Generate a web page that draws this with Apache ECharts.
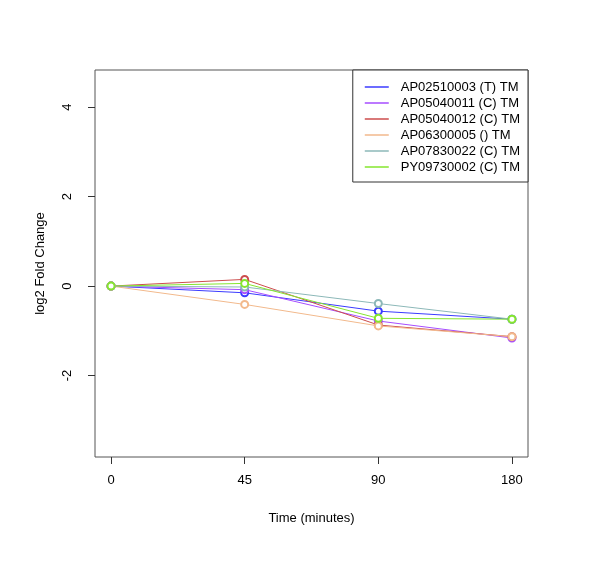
<!DOCTYPE html>
<html>
<head>
<meta charset="utf-8">
<script src="https://cdn.jsdelivr.net/npm/echarts@6/dist/echarts.min.js"></script>
<style>
  html, body { margin: 0; padding: 0; background: #fff; }
  #chart { width: 600px; height: 569px; }
</style>
</head>
<body>
<div id="chart"></div>
<script>
// time points (shown as evenly spaced categories)
const timeLabels = ['0', '45', '90', '180'];
const seriesNames = [
  'AP02510003 (T) TM',
  'AP05040011 (C) TM',
  'AP05040012 (C) TM',
  'AP06300005 () TM',
  'AP07830022 (C) TM',
  'PY09730002 (C) TM'
];
const seriesColors = ['#3b3bff', '#a64dff', '#cc4d4d', '#f2b98c', '#8cb8b8', '#85e62e'];
// log2 fold change values, one array per series
const valAP02510003 = [0, -0.15, -0.56, -0.74];
const valAP05040011 = [0, -0.08, -0.78, -1.16];
const valAP05040012 = [0, 0.15, -0.87, -1.13];
const valAP06300005 = [0, -0.41, -0.89, -1.13];
const valAP07830022 = [0, -0.02, -0.39, -0.74];
const valPY09730002 = [0, 0.06, -0.72, -0.74];
const yTicks = [-2, 0, 2, 4];

const allValues = [valAP02510003, valAP05040011, valAP05040012, valAP06300005, valAP07830022, valPY09730002];

const myChart = echarts.init(document.getElementById('chart'));
const font = 'Liberation Sans, Arial, sans-serif';

let series = allValues.map((vals, k) => ({
  name: seriesNames[k],
  type: 'line',
  data: vals.map((v, i) => [i + 1, v]),
  symbol: 'emptyCircle',
  symbolSize: 7,
  color: seriesColors[k],
  lineStyle: { width: 1, color: seriesColors[k] },
  itemStyle: { color: seriesColors[k], borderWidth: 1 },
  emphasis: { disabled: true },
  animation: false
}));

let option = {
  animation: false,
  grid: {
    left: 95,
    top: 70,
    width: 433,
    height: 387,
    show: true,
    borderColor: '#555',
    borderWidth: 1,
    backgroundColor: 'transparent'
  },
  legend: {
    orient: 'vertical',
    right: 72,
    top: 70,
    backgroundColor: '#fff',
    borderColor: '#333',
    borderWidth: 1,
    padding: [10, 8, 8, 12],
    itemGap: 2,
    itemWidth: 24,
    itemHeight: 1.5,
    icon: 'rect',
    textStyle: { color: '#000', fontSize: 13, fontFamily: font, padding: [0, 0, 0, 7], lineHeight: 14 },
    data: seriesNames.map((n, k) => ({ name: n, itemStyle: { color: seriesColors[k] } }))
  },
  xAxis: {
    type: 'value',
    min: 0.88,
    max: 4.12,
    name: 'Time (minutes)',
    nameLocation: 'middle',
    nameGap: 55,
    nameTextStyle: { color: '#000', fontSize: 13, fontFamily: font },
    axisLine: { show: false, onZero: false },
    splitLine: { show: false },
    axisTick: { show: true, length: 7, customValues: [1, 2, 3, 4], lineStyle: { color: '#333' } },
    axisLabel: {
      customValues: [1, 2, 3, 4],
      margin: 17,
      color: '#000',
      fontSize: 13,
      fontFamily: font,
      formatter: v => timeLabels[Math.round(v) - 1]
    }
  },
  yAxis: {
    type: 'value',
    min: -3.82,
    max: 4.83,
    name: 'log2 Fold Change',
    nameLocation: 'middle',
    nameGap: 48,
    nameTextStyle: { color: '#000', fontSize: 13, fontFamily: font },
    axisLine: { show: false, onZero: false },
    splitLine: { show: false },
    axisTick: { show: true, length: 7, customValues: yTicks, lineStyle: { color: '#333' } },
    axisLabel: {
      customValues: yTicks,
      rotate: 90,
      margin: 21,
      color: '#000',
      fontSize: 13,
      fontFamily: font
    }
  },
  series: series
};
myChart.setOption(option);
</script>
</body>
</html>
